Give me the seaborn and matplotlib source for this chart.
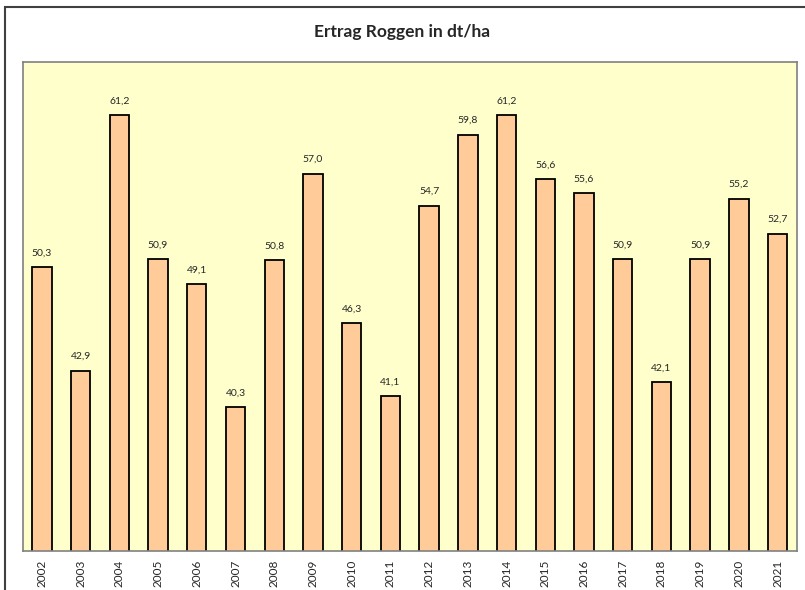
import matplotlib
matplotlib.use("Agg")
import pandas as pd
import seaborn as sns
import matplotlib.pyplot as plt
from matplotlib.patches import Rectangle

# Ertrag Roggen data
years = [str(y) for y in range(2002, 2022)]
ertrag = [50.3, 42.9, 61.2, 50.9, 49.1, 40.3, 50.8, 57.0, 46.3, 41.1,
          54.7, 59.8, 61.2, 56.6, 55.6, 50.9, 42.1, 50.9, 55.2, 52.7]

df = pd.DataFrame({'Jahr': years, 'Ertrag': ertrag})

sns.set_style('white')
plt.rcParams['font.family'] = ['Lato', 'DejaVu Sans']

fig = plt.figure(figsize=(8.05, 5.90), dpi=100)
ax = fig.add_axes([0.028, 0.066, 0.962, 0.829])

sns.barplot(x='Jahr', y='Ertrag', data=df, ax=ax, color='#FFCC99',
            width=0.5, edgecolor='black', linewidth=1.3, saturation=1)
ax.set_facecolor('#FFFFCC')
ax.set_ylim(30, 65)
ax.set_xlim(-0.5, 19.5)
ax.set_yticks([])
ax.set_xlabel('')
ax.set_ylabel('')
ax.tick_params(axis='x', length=0, pad=6, labelsize=8.5, rotation=90)
for s in ax.spines.values():
    s.set_color('#808080')
    s.set_linewidth(1.2)

labels = [f'{v:.1f}'.replace('.', ',') for v in ertrag]
ax.bar_label(ax.containers[0], labels=labels, padding=7, fontsize=7.5)

fig.text(0.5, 0.945, 'Ertrag Roggen in dt/ha', ha='center', va='center',
         fontsize=12.5, fontweight='bold')

# outer chart border
fig.patches.append(Rectangle((0.006, -0.05), 1.1, 1.038, transform=fig.transFigure,
                             fill=False, edgecolor='#404040', linewidth=1.5))

plt.savefig('out.png', dpi=100)
